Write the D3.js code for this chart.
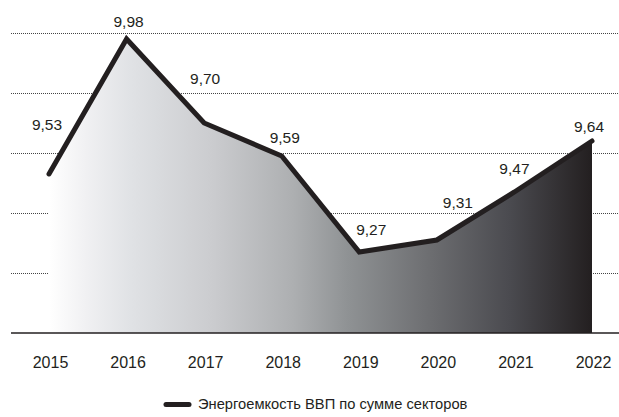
<!DOCTYPE html>
<html><head><meta charset="utf-8">
<script src="https://cdn.jsdelivr.net/npm/d3@7"></script>
<style>
html,body{margin:0;padding:0;background:#fff;}
svg{display:block;font-family:"Liberation Sans",Arial,Helvetica,sans-serif;}
</style></head>
<body>
<svg id="chart" width="619" height="417"></svg>
<script>
const years = ["2015","2016","2017","2018","2019","2020","2021","2022"];
const values = [9.53, 9.98, 9.70, 9.59, 9.27, 9.31, 9.47, 9.64];
const gridTicks = [9.2, 9.4, 9.6, 9.8, 10.0];
const seriesName = "Энергоемкость ВВП по сумме секторов";
// label offsets (layout only)
const labelDx = [-2, 2, 1, 3, 12, 21, 0, -3];
const labelDy = [-44, -12, -39, -13, -17, -32, -18, -9];

const svg = d3.select("#chart");
const x = d3.scalePoint().domain(years).range([49, 592]);
const y = d3.scaleLinear().domain([9.0, 10.0]).range([333, 33]);
const data = years.map((yr, i) => ({yr, v: values[i], dx: labelDx[i], dy: labelDy[i]}));
const ink = "#231f20";

// gradient
const defs = svg.append("defs");
const grad = defs.append("linearGradient").attr("id","g")
  .attr("gradientUnits","userSpaceOnUse")
  .attr("x1", x(years[0])).attr("x2", x(years[years.length-1])).attr("y1",0).attr("y2",0);
[[0,"#ffffff"],[0.07,"#f0f0f2"],[0.15,"#e0e2e5"],[0.3,"#cbcccf"],[0.45,"#adafb1"],
 [0.55,"#8f9294"],[0.7,"#6d6e71"],[0.85,"#4a4a4f"],[1,"#231f20"]]
  .forEach(([o,c]) => grad.append("stop").attr("offset",o).attr("stop-color",c));

// gridlines
svg.append("g").selectAll("line").data(gridTicks).join("line")
  .attr("x1", 11).attr("x2", 619)
  .attr("y1", d => Math.round(y(d)) + 0.5).attr("y2", d => Math.round(y(d)) + 0.5)
  .attr("stroke", "#444").attr("stroke-width", 1).attr("stroke-dasharray", "1,1");

// area
const area = d3.area().x(d => x(d.yr)).y0(y(9.0)).y1(d => y(d.v));
svg.append("path").datum(data).attr("d", area).attr("fill", "url(#g)");

// baseline
svg.append("line").attr("x1", 11).attr("x2", 619)
  .attr("y1", y(9.0)).attr("y2", y(9.0))
  .attr("stroke", ink).attr("stroke-width", 1.5);

// line
const line = d3.line().x(d => x(d.yr)).y(d => y(d.v));
svg.append("path").datum(data).attr("d", line)
  .attr("fill","none").attr("stroke", ink).attr("stroke-width", 5)
  .attr("stroke-linecap","round").attr("stroke-linejoin","miter");

// value labels
svg.append("g").selectAll("text").data(data).join("text")
  .attr("x", d => x(d.yr) + d.dx).attr("y", d => y(d.v) + d.dy)
  .attr("text-anchor","middle").attr("font-size", 15.5).attr("fill", ink)
  .text(d => d.v.toFixed(2).replace(".", ","));

// x axis labels
const xAxis = d3.axisBottom(x).tickSize(0).tickPadding(0);
const ax = svg.append("g").attr("transform", "translate(1,357)").call(xAxis);
ax.select(".domain").remove();
ax.selectAll("text").attr("font-size", 16).attr("fill", ink)
  .attr("font-family", "Liberation Sans, Arial, sans-serif");

// legend
const lg = svg.append("g");
lg.append("line").attr("x1", 166).attr("x2", 189).attr("y1", 404.5).attr("y2", 404.5)
  .attr("stroke", ink).attr("stroke-width", 5).attr("stroke-linecap","round");
lg.append("text").attr("x", 198).attr("y", 409).attr("font-size", 14.7).attr("fill", ink)
  .text(seriesName);
</script>
</body></html>
